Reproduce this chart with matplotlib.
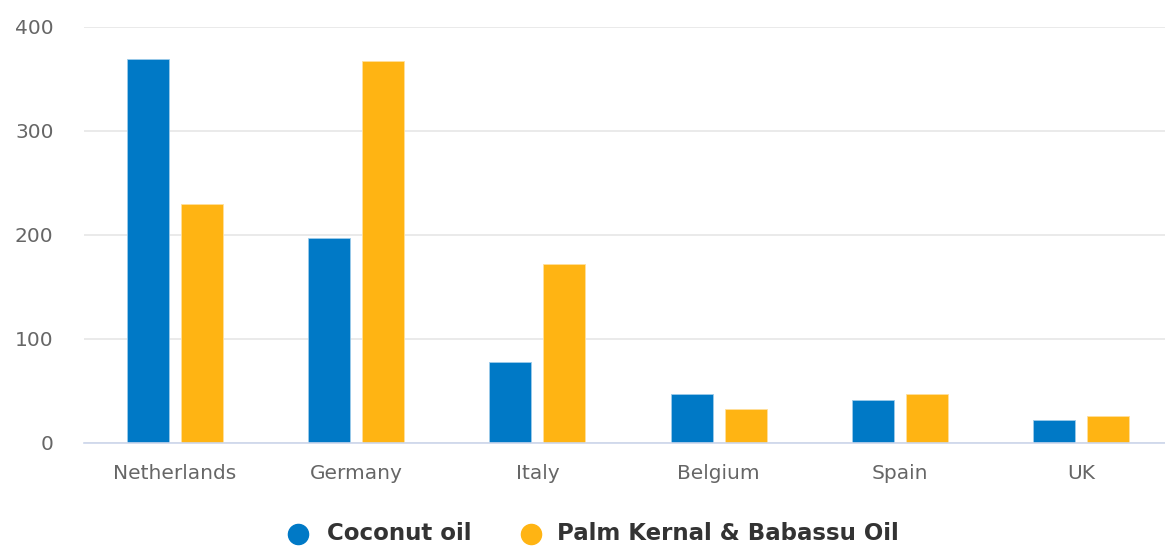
import matplotlib
matplotlib.use("Agg")
import matplotlib.pyplot as plt
from matplotlib.lines import Line2D
import numpy as np

plt.rcParams["font.family"] = ["DejaVu Sans"]

categories = ["Netherlands", "Germany", "Italy", "Belgium", "Spain", "UK"]
coconut = [369, 197, 78, 47, 41, 22]
palm = [230, 367, 172, 33, 47, 26]
series_names = ["Coconut oil", "Palm Kernal & Babassu Oil"]
colors = ["#0079c6", "#ffb413"]
yticks = [0, 100, 200, 300, 400]

W, H = 1165, 547
fig = plt.figure(figsize=(W / 100, H / 100), dpi=100)
left, right = 84 / W, 1172 / W
bottom, top = (H - 443) / H, (H - 27) / H
ax = fig.add_axes([left, bottom, right - left, top - bottom])

x = np.arange(len(categories))
bw = 0.232
off = 0.149
ax.bar(x - off, coconut, bw, color=colors[0], edgecolor="#9ccbea", linewidth=0.6, zorder=3)
ax.bar(x + off, palm, bw, color=colors[1], edgecolor="#ffdf9c", linewidth=0.6, zorder=3)

ax.set_xlim(-0.5, len(categories) - 0.5)
ax.set_ylim(0, 400)
ax.set_yticks(yticks)
ax.set_yticklabels([str(v) for v in yticks])
ax.set_xticks(x)
ax.set_xticklabels(categories)
ax.yaxis.grid(True, color="#e6e6e6", linewidth=1.2, zorder=0)
ax.set_axisbelow(True)
for s in ["top", "right", "left"]:
    ax.spines[s].set_visible(False)
ax.spines["bottom"].set_color("#ccd6eb")
ax.spines["bottom"].set_linewidth(1.2)
ax.spines["bottom"].set_zorder(4)
ax.tick_params(axis="both", length=0, labelcolor="#666666", labelsize=14.5)
ax.tick_params(axis="y", pad=22)
ax.tick_params(axis="x", pad=15)

# legend drawn manually in figure pixel positions
ly = (H - 534) / H
marker_x = [298, 531]
text_x = [327, 557]
for mx, tx, c, name in zip(marker_x, text_x, colors, series_names):
    fig.add_artist(Line2D([mx / W], [ly], transform=fig.transFigure, marker="o",
                          linestyle="", markersize=14.5, markerfacecolor=c, markeredgecolor=c))
    fig.text(tx / W, ly, name, ha="left", va="center", fontsize=16.5,
             fontweight="bold", color="#333333")

fig.savefig("out.png", dpi=100)
